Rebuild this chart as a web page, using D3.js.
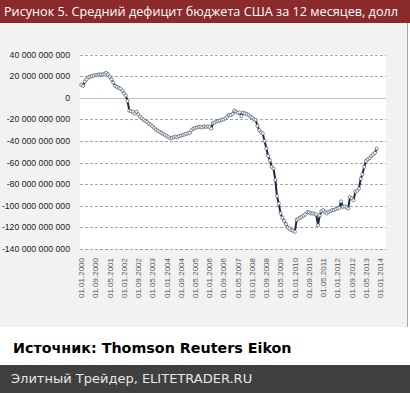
<!DOCTYPE html>
<html>
<head>
<meta charset="utf-8">
<script src="https://cdn.jsdelivr.net/npm/d3@7"></script>
<style>
  body { margin: 0; background: #fff; }
  svg { display: block; }
</style>
</head>
<body>
<svg id="chart" width="410" height="393"></svg>
<script>
// Average 12-month US budget deficit, billions USD, monthly from Jan 2000 to Nov 2013
const startMonth = new Date(2000, 0, 1);
const deficit2000 = [12, 11, 15, 17, 19, 19.5, 20, 20.5, 21, 21, 21.5, 21.5];
const deficit2001 = [21.5, 22, 23, 21.5, 19.5, 17, 14, 11, 10, 9, 8.5, 6.5];
const deficit2002 = [4, 2, -3, -12, -12.5, -13, -14.5, -13, -15.5, -17.5, -19, -20.5];
const deficit2003 = [-21.5, -22.5, -24, -25, -26.5, -28, -29.5, -30.5, -31.5, -32.5, -33.5, -34.5];
const deficit2004 = [-35.5, -36.5, -37.5, -37, -36.5, -36, -36.5, -35.5, -35, -34.5, -34, -33.5];
const deficit2005 = [-33, -32.5, -30, -28.5, -28, -27.5, -27, -27, -27.5, -26.5, -27, -26.5];
const deficit2006 = [-27, -28.5, -23.5, -23, -22, -21.5, -21, -20.5, -20, -19, -17.5, -16];
const deficit2007 = [-16, -15, -12, -13, -14, -13.5, -17, -14, -14.5, -15, -16, -17.5];
const deficit2008 = [-18.5, -20, -20.5, -26, -30, -32, -33, -40, -47, -54, -58, -64];
const deficit2009 = [-65.5, -76, -91, -98, -107, -111, -114, -117, -120, -121, -122.5, -123];
const deficit2010 = [-124, -113, -112, -111, -110, -109, -108, -106, -106, -107, -107, -107.5];
const deficit2011 = [-108, -118, -109, -105, -104, -106, -107, -105.5, -105, -104, -104, -103];
const deficit2012 = [-102.5, -102, -96, -101, -100.5, -101.5, -102.5, -92, -93, -95, -87, -86];
const deficit2013 = [-84, -75, -71, -64, -58.5, -57, -56, -54, -52.5, -51, -47];

const yTicks = [40, 20, 0, -20, -40, -60, -80, -100, -120, -140];
const xTickLabels = ["01.01.2000", "01.09.2000", "01.05.2001", "01.01.2002", "01.09.2002",
  "01.05.2003", "01.01.2004", "01.09.2004", "01.05.2005", "01.01.2006", "01.09.2006",
  "01.05.2007", "01.01.2008", "01.09.2008", "01.05.2009", "01.01.2010", "01.09.2010",
  "01.05.2011", "01.01.2012", "01.09.2012", "01.05.2013", "01.01.2014"];

const titleText = "Рисунок 5.  Средний дефицит бюджета США за 12 месяцев, долл";
const sourceText = "Источник: Thomson Reuters Eikon";
const footerText = "Элитный Трейдер, ELITETRADER.RU";

const values = [].concat(deficit2000, deficit2001, deficit2002, deficit2003, deficit2004,
  deficit2005, deficit2006, deficit2007, deficit2008, deficit2009, deficit2010,
  deficit2011, deficit2012, deficit2013);
const data = values.map((v, i) => ({
  date: d3.timeMonth.offset(startMonth, i),
  value: v
}));

const parseTick = d3.timeParse("%d.%m.%Y");

const svg = d3.select("#chart");
const W = 410, H = 393;

// Backgrounds
svg.append("rect").attr("x", 0).attr("y", 0).attr("width", W).attr("height", 23).attr("fill", "#8b2a2a");
svg.append("rect").attr("x", 0).attr("y", 23).attr("width", 407).attr("height", 304).attr("fill", "#f2f2f2");
svg.append("line").attr("x1", 407.5).attr("x2", 407.5).attr("y1", 23).attr("y2", 327)
  .attr("stroke", "#a6a6a6").attr("stroke-width", 1);
svg.append("rect").attr("x", 0).attr("y", 365).attr("width", W).attr("height", 28).attr("fill", "#404040");

svg.append("text")
  .attr("x", 4).attr("y", 16)
  .attr("fill", "#ffffff")
  .style("font-family", "'Open Sans', 'Liberation Sans', sans-serif")
  .style("font-size", "12.5px")
  .attr("textLength", 394).attr("lengthAdjust", "spacingAndGlyphs")
  .text(titleText);

svg.append("text")
  .attr("x", 13).attr("y", 353)
  .attr("fill", "#000")
  .style("font-family", "'DejaVu Sans', sans-serif")
  .style("font-weight", "bold")
  .style("font-size", "14.3px")
  .text(sourceText);

svg.append("text")
  .attr("x", 11).attr("y", 383)
  .attr("fill", "#e6e6e6")
  .style("font-family", "'DejaVu Sans', sans-serif")
  .style("font-size", "13px")
  .text(footerText);

// Plot area
const plot = { left: 80, right: 386, top: 54.5, bottom: 249 };

svg.append("rect")
  .attr("x", plot.left).attr("y", plot.top)
  .attr("width", plot.right - plot.left).attr("height", plot.bottom - plot.top)
  .attr("fill", "#ffffff");

const x = d3.scaleTime()
  .domain([data[0].date, data[data.length - 1].date])
  .range([81.3, 376.7]);

const y = d3.scaleLinear()
  .domain([-140, 40])
  .range([plot.bottom, plot.top]);

const fmt = v => d3.format(",")(v * 1e9).replace(/,/g, " ").replace("\u2212", "-");

// Gridlines
svg.append("g").selectAll("line")
  .data(yTicks)
  .join("line")
  .attr("x1", plot.left).attr("x2", plot.right)
  .attr("y1", d => Math.round(y(d)) + 0.5).attr("y2", d => Math.round(y(d)) + 0.5)
  .attr("stroke", d => d === 0 ? "#bfbfbf" : "#a6a6a6")
  .attr("stroke-width", 1)
  .attr("stroke-dasharray", d => d === 0 ? null : "3,2");

// Y labels
svg.append("g").selectAll("text")
  .data(yTicks)
  .join("text")
  .attr("x", 70)
  .attr("y", d => y(d))
  .attr("dy", "0.35em")
  .attr("text-anchor", "end")
  .attr("fill", "#1a1a1a")
  .style("font-family", "'Liberation Sans', Arial, sans-serif")
  .style("font-size", "8.7px")
  .text(d => d === 0 ? "0" : fmt(d));

// X labels
svg.append("g").selectAll("text")
  .data(xTickLabels)
  .join("text")
  .attr("transform", d => `translate(${x(parseTick(d))},258) rotate(-90)`)
  .attr("dy", "0.35em")
  .attr("text-anchor", "end")
  .attr("fill", "#595959")
  .style("font-family", "'Liberation Sans', Arial, sans-serif")
  .style("font-size", "8px")
  .text(d => d);

// Line
const line = d3.line()
  .x(d => x(d.date))
  .y(d => y(d.value));

svg.append("path")
  .datum(data)
  .attr("fill", "none")
  .attr("stroke", "#17283f")
  .attr("stroke-width", 2)
  .attr("stroke-linejoin", "round")
  .attr("d", line);

svg.append("g").selectAll("circle")
  .data(data)
  .join("circle")
  .attr("cx", d => x(d.date))
  .attr("cy", d => y(d.value))
  .attr("r", 1.6)
  .attr("fill", "#ffffff")
  .attr("stroke", "#4a5a70")
  .attr("stroke-width", 0.7);
</script>
</body>
</html>
